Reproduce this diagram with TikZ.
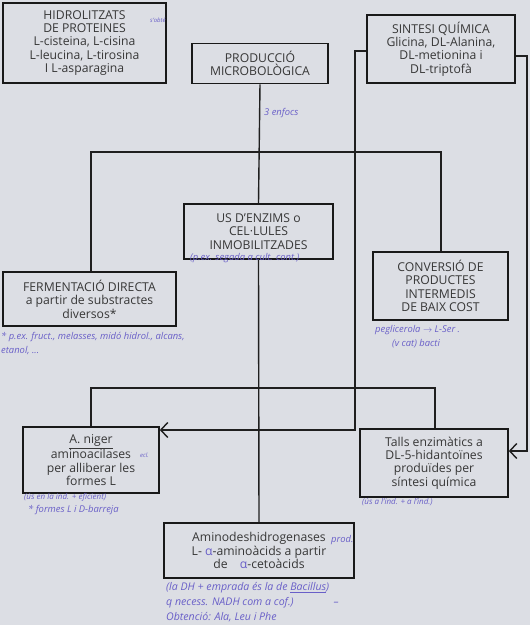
\documentclass[tikz,border=0pt]{standalone}
\usepackage{fontspec}
\setmainfont{Open Sans}
\usetikzlibrary{arrows.meta}
\definecolor{bg}{RGB}{220,222,228}
\definecolor{txt}{RGB}{55,55,55}
\definecolor{ink}{RGB}{105,95,200}
\begin{document}
\begin{tikzpicture}[x=1pt,y=-1pt,
  box/.style={draw=black!90, line width=1.6pt, inner sep=0pt, text=txt, align=center,
    font=\fontsize{12.2}{13.4}\selectfont},
  conn/.style={draw=black!88, line width=1.4pt},
  arr/.style={conn, -{Straight Barb[length=7pt,width=15pt,line width=1.4pt]}},
  note/.style={text=ink, font=\fontsize{9.4}{10}\selectfont\itshape, inner sep=0pt, anchor=west},
  bignote/.style={note, font=\fontsize{10.6}{11}\selectfont\itshape}
]
\fill[bg] (0,0) rectangle (530,625);
\useasboundingbox (0,0) rectangle (530,625);

% boxes
\node[box, minimum width=163pt, minimum height=80pt] (hid) at (84.5,43)
  {HIDROLITZATS\\DE PROTEINES\\L-cisteina, L-cisina\\L-leucina, L-tirosina\\I L-asparagina};
\node[box, minimum width=136pt, minimum height=40pt] (prod) at (260,63.5)
  {PRODUCCIÓ\\MICROBOLÒGICA};
\node[box, minimum width=148pt, minimum height=68pt] (sin) at (441,49)
  {SINTESI QUÍMICA\\Glicina, DL-Alanina,\\DL-metionina i\\DL-triptofà};
\node[box, minimum width=149pt, minimum height=55pt] (us) at (258.5,231.5)
  {US D'ENZIMS o\\CEL·LULES\\INMOBILITZADES};
\node[box, minimum width=173pt, minimum height=54pt] (fer) at (89.5,299)
  {FERMENTACIÓ DIRECTA\\a partir de substractes\\diversos*};
\node[box, minimum width=135pt, minimum height=68pt] (conv) at (440.5,286)
  {CONVERSIÓ DE\\PRODUCTES\\INTERMEDIS\\DE BAIX COST};
\node[box, minimum width=136pt, minimum height=66pt] (nig) at (91,460)
  {\underline{A. niger}\\aminoacilases\\per alliberar les\\formes L};
\node[box, minimum width=148pt, minimum height=68pt] (tal) at (434,463)
  {Talls enzimàtics a\\DL-5-hidantoïnes\\produïdes per\\síntesi química};
\node[box, minimum width=190pt, minimum height=55pt] (ami) at (259,550.5)
  {Aminodeshidrogenases\\L- {\color{ink}α}-aminoàcids a partir\\de\quad{\color{ink}α}-cetoàcids};

% connectors
\coordinate (j1r) at (441,152);
\coordinate (j2r) at (435,388);
\coordinate (sl) at (355,51);
\coordinate (sr) at (527,56);
\draw[conn] (prod.south) -- (us.north);
\draw[conn] (fer.north -| 91,0) |- (j1r) -- (j1r |- conv.north);
\draw[conn] (us.south) -- (ami.north);
\draw[conn] (nig.north -| 91,0) |- (j2r) -- (j2r |- tal.north);
\draw[arr] (sin.west |- sl) -- (sl) -- (355,430) -- (nig.east |- 0,430);
\draw[arr] (sin.east |- sr) -- (sr) -- (527,451) -- (tal.east |- 0,451);

% handwritten notes
\node[note] (n0) at (150,20) {\fontsize{6}{6}\selectfont s'obté};
\node[note] (n1) at (264,113) {3 enfocs};
\node[note] (n2) at (190,258) {(p.ex. segada a cult. cont.)};
\node[note] (n3) at (1,337) {* p.ex. fruct., melasses, midó hidrol., alcans,};
\node[note] (n4) at (1,351) {etanol, ...};
\node[note] (n5) at (375,330) {peglicerola $\to$ L-Ser .};
\node[note] (n6) at (392,344) {(v cat) bacti};
\node[note] (n7) at (140,455) {\fontsize{6}{6}\selectfont ecl.};
\node[note] (n8) at (24,497) {\fontsize{8}{8}\selectfont (ús en la ind. + eficient)};
\node[note] (n9) at (28,510) {* formes L i D-barreja};
\node[note] (n10) at (362,502) {\fontsize{8}{8}\selectfont (ús a l'ind. + a l'ind.)};
\node[note] (n11) at (331,540) {prod.};
\node[bignote] (n12) at (166,588) {(la DH + emprada és la de \underline{Bacillus})};
\node[bignote] (n13) at (166,603) {q necess. NADH com a cof.)\hspace{40pt}–};
\node[bignote] (n14) at (166,617) {Obtenció: Ala, Leu i Phe};
\end{tikzpicture}
\end{document}
